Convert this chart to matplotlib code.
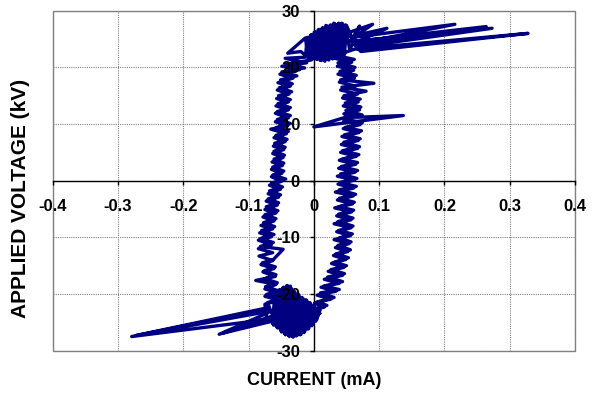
import matplotlib
matplotlib.use("Agg")
import matplotlib.pyplot as plt
from matplotlib.patches import Rectangle
import numpy as np

# loop traced in eight pieces: two sweeps around the hysteresis loop
rise1_ma = [0.009, 0.004, 0.020, 0.005, 0.031, 0.010, 0.039, 0.015, 0.044, 0.021,
            0.047, 0.026, 0.050, 0.031, 0.053, 0.034, 0.056, 0.037, 0.057, 0.039,
            0.059, 0.038, 0.060, 0.037, 0.060, 0.038, 0.061, 0.038, 0.062, 0.039,
            0.064, 0.039, 0.065, 0.040, 0.066, 0.041, 0.067, 0.042, 0.067, 0.043,
            0.069, 0.044, 0.070, 0.046, 0.071, 0.047, 0.073, 0.048, 0.074, 0.049,
            0.074, 0.049, 0.072, 0.048, 0.071, 0.046, 0.080, 0.043, 0.092, 0.041,
            0.065, 0.040, 0.063, 0.037, 0.062, 0.034]
rise1_kv = [-23.4, -22.6, -22.0, -21.4, -20.6, -19.8, -19.2, -18.6, -17.8, -17.0,
            -16.4, -15.7, -15.0, -14.4, -13.6, -12.9, -12.2, -11.4, -10.8, -10.1,
            -9.4, -8.8, -8.0, -7.2, -6.6, -5.9, -5.2, -4.6, -3.8, -3.1,
            -2.4, -1.6, -1.0, -0.3, 0.4, 1.2, 1.8, 2.5, 3.2, 3.8,
            4.6, 5.3, 6.0, 6.8, 7.4, 8.1, 8.8, 9.4, 10.2, 10.9,
            11.6, 12.4, 13.0, 13.7, 14.4, 15.0, 15.8, 16.5, 17.2, 17.8,
            18.6, 19.3, 20.0, 20.8, 21.4, 22.1]

top1_ma = [0.062, 0.328, 0.072, 0.058, 0.264, 0.066, 0.052, 0.090, 0.066, 0.112,
           0.062, 0.050, 0.047, 0.044, 0.041, 0.038, 0.035, 0.032, 0.029, 0.026,
           0.023, 0.020, 0.017, 0.014, 0.011, 0.008, 0.005, 0.002, -0.001, -0.004,
           -0.007, -0.010, -0.013]
top1_kv = [23.2, 26.0, 22.8, 24.5, 27.2, 24.0, 26.1, 27.6, 25.7, 26.9,
           24.3, 27.4, 22.3, 27.7, 22.0, 27.8, 21.8, 27.7, 21.5, 27.5,
           21.3, 27.3, 21.1, 27.0, 21.2, 26.7, 21.4, 26.3, 21.5, 25.8,
           21.5, 25.3, 21.8]

fall1_ma = [-0.044, -0.011, -0.049, -0.022, -0.052, -0.032, -0.055, -0.036, -0.056, -0.038,
            -0.057, -0.039, -0.058, -0.039, -0.059, -0.039, -0.059, -0.040, -0.066, -0.042,
            -0.061, -0.044, -0.062, -0.046, -0.063, -0.047, -0.064, -0.048, -0.065, -0.049,
            -0.065, -0.049, -0.068, -0.051, -0.070, -0.054, -0.073, -0.056, -0.075, -0.058,
            -0.078, -0.061, -0.081, -0.063, -0.083, -0.065, -0.085, -0.065, -0.085, -0.063,
            -0.084, -0.063, -0.081, -0.061, -0.078, -0.059, -0.089, -0.058, -0.075, -0.057,
            -0.075, -0.053, -0.075]
fall1_kv = [21.6, 20.8, 20.2, 19.6, 18.8, 18.1, 17.3, 16.7, 16.0, 15.3,
            14.5, 13.9, 13.2, 12.5, 11.9, 11.1, 10.4, 9.7, 9.1, 8.3,
            7.6, 6.9, 6.1, 5.5, 4.8, 4.1, 3.3, 2.7, 2.0, 1.3,
            0.7, -0.1, -0.8, -1.5, -2.3, -2.9, -3.6, -4.3, -5.1, -5.7,
            -6.4, -7.1, -7.9, -8.5, -9.2, -9.9, -10.5, -11.3, -12.0, -12.7,
            -13.3, -14.1, -14.8, -15.5, -16.1, -16.9, -17.6, -18.3, -19.1, -19.7,
            -20.4, -21.1, -21.8]

bottom1_ma = [-0.072, -0.279, -0.068, -0.070, -0.145, -0.066, -0.063, -0.060, -0.057, -0.054,
              -0.051, -0.048, -0.045, -0.042, -0.039, -0.036, -0.033, -0.030, -0.027, -0.024,
              -0.021, -0.018, -0.015, -0.012, -0.009, -0.006, -0.003, 0.000, 0.003, 0.006]
bottom1_kv = [-24.5, -27.5, -22.6, -23.3, -27.1, -24.2, -25.2, -20.0, -25.8, -19.5,
              -26.4, -19.0, -27.0, -18.6, -27.3, -18.6, -27.5, -19.5, -27.4, -20.0,
              -27.2, -20.6, -26.8, -21.0, -26.2, -21.5, -25.6, -22.0, -24.8, -22.5]

rise2_ma = [-0.005, 0.016, 0.001, 0.026, 0.005, 0.034, 0.011, 0.039, 0.016, 0.044,
            0.022, 0.046, 0.027, 0.049, 0.030, 0.052, 0.033, 0.054, 0.031, 0.056,
            0.035, 0.057, 0.031, 0.057, 0.035, 0.058, 0.032, 0.059, 0.036, 0.060,
            0.033, 0.061, 0.037, 0.062, 0.036, 0.063, 0.038, 0.064, 0.039, 0.065,
            0.041, 0.067, 0.042, 0.068, 0.043, 0.069, 0.045, 0.071, 0.046, 0.060,
            0.000, 0.137, 0.066, 0.046, 0.070, 0.045, 0.068, 0.044, 0.067, 0.041,
            0.064, 0.039, 0.062, 0.037, 0.061, 0.036, 0.058, 0.032]
rise2_kv = [-23.0, -22.3, -21.6, -20.9, -20.2, -19.5, -18.8, -18.1, -17.4, -16.7,
            -16.0, -15.3, -14.6, -13.9, -13.2, -12.5, -11.8, -11.1, -10.4, -9.7,
            -9.0, -8.3, -7.6, -6.9, -6.2, -5.5, -4.8, -4.1, -3.4, -2.7,
            -2.0, -1.3, -0.6, 0.1, 0.8, 1.5, 2.2, 2.9, 3.6, 4.3,
            5.0, 5.7, 6.4, 7.1, 7.8, 8.5, 9.2, 9.9, 10.6, 11.6,
            9.5, 11.5, 11.2, 11.8, 12.5, 13.2, 13.9, 14.6, 15.3, 16.0,
            16.7, 17.4, 18.1, 18.8, 19.5, 20.2, 20.9, 21.6]

top2_ma = [0.045, 0.060, 0.273, 0.070, 0.075, 0.216, 0.060, 0.070, 0.055, 0.0485,
           0.0455, 0.0425, 0.0395, 0.0365, 0.0335, 0.0305, 0.0275, 0.0245, 0.0215, 0.0185,
           0.0155, 0.0125, 0.0095, 0.0065, 0.0035, 0.0005, -0.0025, -0.0055, -0.0085, -0.013,
           -0.040, -0.020]
top2_kv = [24.8, 24.6, 26.9, 23.6, 24.4, 27.6, 25.3, 27.3, 23.0, 27.5,
           22.5, 27.8, 22.2, 27.6, 22.0, 27.8, 21.6, 27.4, 21.4, 27.4,
           21.2, 26.9, 21.3, 26.6, 21.5, 26.2, 21.6, 25.6, 21.8, 25.2,
           22.5, 22.8]

fall2_ma = [-0.004, -0.042, -0.014, -0.049, -0.026, -0.051, -0.033, -0.053, -0.034, -0.054,
            -0.036, -0.055, -0.036, -0.056, -0.036, -0.056, -0.036, -0.057, -0.039, -0.058,
            -0.041, -0.060, -0.044, -0.061, -0.045, -0.061, -0.046, -0.063, -0.046, -0.063,
            -0.043, -0.065, -0.048, -0.068, -0.051, -0.070, -0.054, -0.073, -0.055, -0.075,
            -0.058, -0.077, -0.060, -0.080, -0.061, -0.082, -0.062, -0.082, -0.047, -0.062,
            -0.079, -0.059, -0.076, -0.058, -0.075, -0.056, -0.074, -0.055, -0.073, -0.051,
            -0.071]
fall2_kv = [21.3, 20.6, 19.9, 19.2, 18.5, 17.8, 17.1, 16.4, 15.7, 15.0,
            14.3, 13.6, 12.9, 12.2, 11.5, 10.8, 10.1, 9.4, 8.7, 8.0,
            7.3, 6.6, 5.9, 5.2, 4.5, 3.8, 3.1, 2.4, 1.7, 1.0,
            0.3, -0.4, -1.1, -1.8, -2.5, -3.2, -3.9, -4.6, -5.3, -6.0,
            -6.7, -7.4, -8.1, -8.8, -9.5, -10.2, -10.9, -11.6, -12.1, -13.9,
            -14.5, -15.2, -15.9, -16.6, -17.3, -18.0, -18.7, -19.4, -20.1, -20.8,
            -21.5]

bottom2_ma = [-0.066, -0.272, -0.070, -0.062, -0.139, -0.064, -0.0615, -0.0585, -0.0555, -0.0525,
              -0.0495, -0.0465, -0.0435, -0.0405, -0.0375, -0.0345, -0.0315, -0.0285, -0.0255, -0.0225,
              -0.0195, -0.0165, -0.0135, -0.0105, -0.0075, -0.0045, -0.0015, 0.0015, 0.0045, 0.009]
bottom2_kv = [-23.0, -27.3, -22.4, -23.8, -26.9, -24.8, -25.5, -19.8, -26.0, -19.2,
              -26.7, -18.8, -27.2, -18.5, -27.5, -19.0, -27.6, -19.8, -27.3, -20.3,
              -27.1, -20.8, -26.5, -21.2, -26.0, -21.8, -25.3, -22.2, -24.5, -23.0]

x_ticks = [-0.4, -0.3, -0.2, -0.1, 0, 0.1, 0.2, 0.3, 0.4]
x_labels = ['-0.4', '-0.3', '-0.2', '-0.1', '0', '0.1', '0.2', '0.3', '0.4']
y_ticks = [-30, -20, -10, 0, 10, 20, 30]
y_labels = ['-30', '-20', '-10', '0', '10', '20', '30']

current_ma = np.concatenate([rise1_ma, top1_ma, fall1_ma, bottom1_ma,
                             rise2_ma, top2_ma, fall2_ma, bottom2_ma])
voltage_kv = np.concatenate([rise1_kv, top1_kv, fall1_kv, bottom1_kv,
                             rise2_kv, top2_kv, fall2_kv, bottom2_kv])

plt.rcParams['font.family'] = ['Liberation Sans', 'DejaVu Sans']

fig = plt.figure(figsize=(5.93, 3.94), dpi=100)
rect = [0.0889, 0.1099, 0.8807, 0.8629]

# grid lives on its own axes so it stays behind the curve
ax_grid = fig.add_axes(rect)
ax_grid.set_xlim(-0.4, 0.4)
ax_grid.set_ylim(-30, 30)
ax_grid.set_xticks(x_ticks)
ax_grid.set_yticks(y_ticks)
ax_grid.grid(True, color='#808080', linestyle=(0, (1, 1)), linewidth=0.8)
ax_grid.tick_params(length=0, labelbottom=False, labelleft=False)
for s in ax_grid.spines.values():
    s.set_visible(False)

ax = fig.add_axes(rect)
ax.patch.set_visible(False)
ax.set_xlim(-0.4, 0.4)
ax.set_ylim(-30, 30)
ax.set_axisbelow(False)

ax.plot(current_ma, voltage_kv, color='#000080', linewidth=2.4, zorder=2)

ax.spines['left'].set_position('zero')
ax.spines['bottom'].set_position('zero')
for side in ['left', 'bottom']:
    ax.spines[side].set_color('black')
    ax.spines[side].set_linewidth(1.0)
    ax.spines[side].set_zorder(1.9)
ax.spines['top'].set_visible(False)
ax.spines['right'].set_visible(False)
ax.add_patch(Rectangle((0, 0), 1, 1, transform=ax.transAxes, fill=False,
                       edgecolor='#808080', linewidth=1.0, clip_on=False, zorder=1))

ax.set_xticks(x_ticks, x_labels, fontweight='bold')
ax.set_yticks(y_ticks, y_labels, fontweight='bold')
ax.tick_params(axis='x', direction='out', length=3, width=1, pad=10.5, labelsize=12)
ax.tick_params(axis='y', direction='out', length=3, width=1, pad=7, labelsize=12)

fig.text(0.0354, 0.497, 'APPLIED VOLTAGE (kV)', rotation=90, ha='center', va='center',
         fontsize=15, fontweight='bold')
fig.text(0.5295, 0.033, 'CURRENT (mA)', ha='center', va='center',
         fontsize=13, fontweight='bold')

fig.savefig('out.png', dpi=100)
